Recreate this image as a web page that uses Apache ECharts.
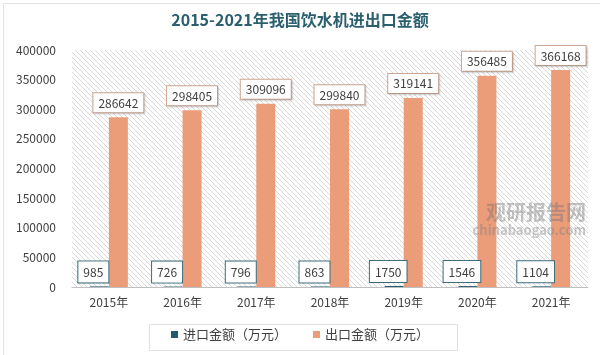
<!DOCTYPE html>
<html>
<head>
<meta charset="utf-8">
<script src="https://cdn.jsdelivr.net/npm/echarts@6/dist/echarts.min.js"></script>
<style>
html,body{margin:0;padding:0;background:#fff;}
#chart{width:600px;height:355px;}
</style>
</head>
<body>
<div id="chart"></div>
<script>
const categories = ['2015年','2016年','2017年','2018年','2019年','2020年','2021年'];
const importValues = [985, 726, 796, 863, 1750, 1546, 1104];
const exportValues = [286642, 298405, 309096, 299840, 319141, 356485, 366168];
const seriesNames = ['进口金额（万元）', '出口金额（万元）'];
const titleText = '2015-2021年我国饮水机进出口金额';

// hatch pattern for plot background
const pc = document.createElement('canvas');
pc.width = 5; pc.height = 5;
const ctx = pc.getContext('2d');
ctx.fillStyle = '#ffffff';
ctx.fillRect(0,0,5,5);
ctx.strokeStyle = '#d9d9d9';
ctx.lineWidth = 1;
ctx.beginPath();
ctx.moveTo(-1,-1); ctx.lineTo(6,6);
ctx.moveTo(-1,4); ctx.lineTo(1,6);
ctx.moveTo(4,-1); ctx.lineTo(6,1);
ctx.stroke();

const chart = echarts.init(document.getElementById('chart'));
const font = '"Noto Sans CJK SC", "Noto Sans", sans-serif';
chart.setOption({
  backgroundColor: '#ffffff',
  animation: false,
  title: {
    text: titleText,
    left: 'center',
    top: 7,
    textStyle: { fontFamily: font, fontSize: 16, fontWeight: 'bold', color: '#2b5f6e' }
  },
  graphic: [
    { type: 'rect', left: 1, top: 1, shape: { width: 597, height: 352 }, style: { fill: 'none', stroke: '#e3e3e3', lineWidth: 1 }, z: -1 },
    { type: 'rect', left: 147, top: 322, shape: { width: 308, height: 26 }, style: { fill: 'none', stroke: '#e0e0e0', lineWidth: 1 }, z: 10 },
    { type: 'text', right: 14, top: 202, style: { text: '观研报告网', font: 'bold 20px ' + font, fill: 'rgba(120,120,120,0.45)' }, z: 100 },
    { type: 'text', right: 14, top: 224, style: { text: 'chinabaogao.com', font: 'bold 13px ' + font, fill: 'rgba(130,130,130,0.45)' }, z: 100 }
  ],
  legend: {
    bottom: 9,
    left: 'center',
    itemWidth: 7,
    itemHeight: 7,
    itemGap: 26,
    icon: 'rect',
    textStyle: { fontFamily: font, fontSize: 13, color: '#404040' },
    data: seriesNames
  },
  grid: {
    left: 72, right: 12, top: 50, bottom: 68,
    show: true,
    borderWidth: 0,
    backgroundColor: { image: pc, repeat: 'repeat' }
  },
  xAxis: {
    type: 'category',
    data: categories,
    axisLine: { lineStyle: { color: '#bfbfbf' } },
    axisTick: { show: false },
    axisLabel: { fontFamily: font, fontSize: 12, color: '#404040', margin: 9 }
  },
  yAxis: {
    type: 'value',
    min: 0, max: 400000, interval: 50000,
    splitLine: { show: false },
    axisLine: { show: false },
    axisTick: { show: false },
    axisLabel: { fontFamily: font, fontSize: 12, color: '#404040', margin: 16, formatter: function (v) { return String(v); } }
  },
  series: [
    {
      name: seriesNames[0],
      type: 'bar',
      data: importValues,
      barWidth: 19,
      barGap: '0%',
      itemStyle: { color: '#1f5c73' },
      label: {
        show: true,
        position: 'top',
        distance: 4,
        offset: [-6, 0],
        fontFamily: font,
        fontSize: 12,
        color: '#404040',
        backgroundColor: '#ffffff',
        borderColor: '#3d6b78',
        borderWidth: 1,
        padding: [5, 5, 4, 5]
      }
    },
    {
      name: seriesNames[1],
      type: 'bar',
      data: exportValues,
      barWidth: 19,
      itemStyle: { color: '#eb9c79' },
      label: {
        show: true,
        position: 'top',
        distance: 5,
        fontFamily: font,
        fontSize: 12,
        color: '#404040',
        backgroundColor: '#ffffff',
        borderColor: '#cfa896',
        borderWidth: 1,
        padding: [4, 5, 3, 5],
        shadowColor: 'rgba(0,0,0,0.15)',
        shadowBlur: 2,
        shadowOffsetX: 1,
        shadowOffsetY: 1
      }
    }
  ]
});
</script>
</body>
</html>
